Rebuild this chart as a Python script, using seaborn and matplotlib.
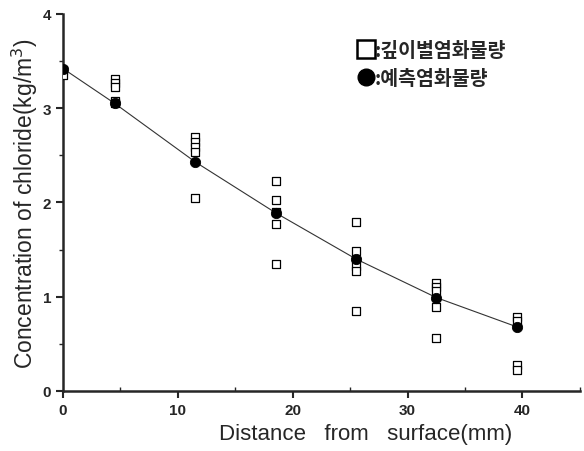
import numpy as np
import pandas as pd
import matplotlib.pyplot as plt
import seaborn as sns
from matplotlib.lines import Line2D
from matplotlib.ticker import MultipleLocator

# measured chloride content per depth
meas_depth = [0, 0,
              4.5, 4.5, 4.5, 4.5, 4.5,
              11.5, 11.5, 11.5, 11.5, 11.5,
              18.5, 18.5, 18.5, 18.5, 18.5,
              25.5, 25.5, 25.5, 25.5, 25.5,
              32.5, 32.5, 32.5, 32.5, 32.5,
              39.5, 39.5, 39.5, 39.5]
meas_value = [3.40, 3.35,
              3.31, 3.27, 3.22, 3.08, 3.05,
              2.69, 2.64, 2.59, 2.53, 2.05,
              2.23, 2.03, 1.90, 1.77, 1.35,
              1.79, 1.48, 1.33, 1.27, 0.85,
              1.14, 1.10, 1.06, 0.89, 0.56,
              0.78, 0.74, 0.27, 0.22]

# predicted chloride content
pred_depth = [0, 4.5, 11.5, 18.5, 25.5, 32.5, 39.5]
pred_value = [3.42, 3.05, 2.43, 1.89, 1.40, 0.99, 0.68]

legend_labels = [":깊이별염화물량", ":예측염화물량"]

meas = pd.DataFrame({"depth": meas_depth, "value": meas_value})
pred = pd.DataFrame({"depth": pred_depth, "value": pred_value})

sns.set_style("ticks")
plt.rcParams['font.family'] = ['Liberation Sans', 'DejaVu Sans']

fig = plt.figure(figsize=(5.84, 4.52), dpi=100)
ax = fig.add_axes([0.108, 0.133, 0.885, 0.834])

sns.lineplot(data=pred, x="depth", y="value", ax=ax, color="#333333", lw=0.8)
sns.scatterplot(data=meas, x="depth", y="value", ax=ax, marker="s", s=26,
                facecolor="white", edgecolor="black", linewidth=0.9, zorder=3)
sns.scatterplot(data=pred, x="depth", y="value", ax=ax, marker="o", s=55,
                color="black", edgecolor="black", zorder=4)

ax.set_xlim(0, 45)
ax.set_ylim(0, 4)
ax.xaxis.set_major_locator(MultipleLocator(10))
ax.xaxis.set_minor_locator(MultipleLocator(5))
ax.yaxis.set_major_locator(MultipleLocator(1))
ax.yaxis.set_minor_locator(MultipleLocator(0.5))
ax.tick_params(which="major", direction="out", length=5, width=1.5,
               labelsize=11)
ax.tick_params(axis="x", which="minor", direction="in", length=3, width=1)
ax.tick_params(axis="y", which="minor", direction="out", length=3, width=1)
for lab in ax.get_xticklabels() + ax.get_yticklabels():
    lab.set_fontweight("bold")

sns.despine(ax=ax)
ax.spines["left"].set_linewidth(1.8)
ax.spines["bottom"].set_linewidth(1.8)

ax.set_xlabel("Distance   from   surface(mm)", fontsize=16, labelpad=5)
ax.xaxis.set_label_coords(0.585, -0.085)
ax.set_ylabel("Concentration of chloride(kg/m$^3$)", fontsize=16.5,
              labelpad=2)

handles = [
    Line2D([], [], marker="s", ls="", markersize=13, markerfacecolor="white",
           markeredgecolor="black", markeredgewidth=1.8),
    Line2D([], [], marker="o", ls="", markersize=12, color="black"),
]
leg = ax.legend(handles, legend_labels, loc="upper left",
                bbox_to_anchor=(0.53, 0.975), frameon=False,
                handletextpad=-0.15, handlelength=1.2, labelspacing=0.45,
                prop={"family": ["Noto Sans CJK KR", "DejaVu Sans"],
                      "size": 14, "weight": "bold"})

fig.savefig("out.png", dpi=100)
